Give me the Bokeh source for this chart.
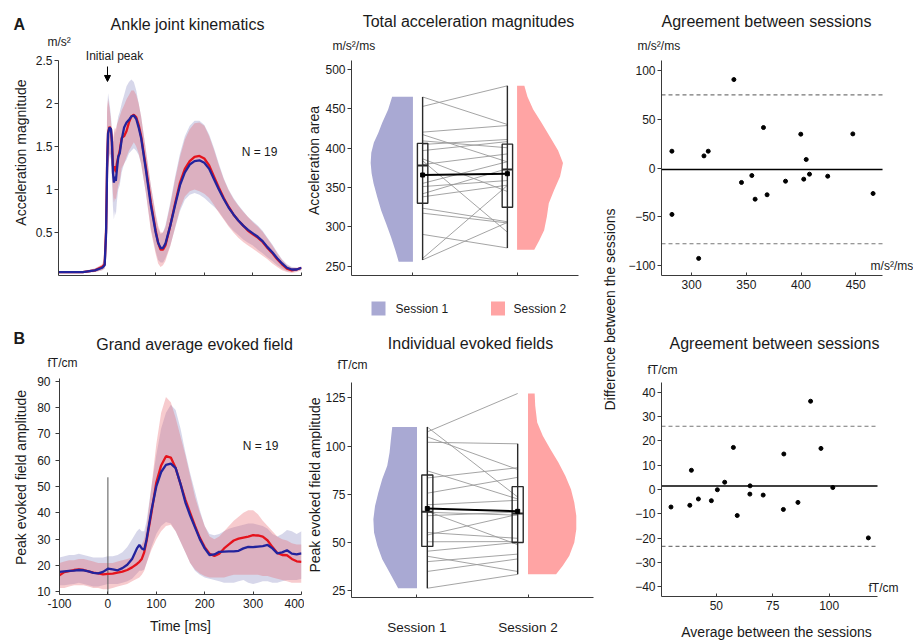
import numpy as np
from bokeh.plotting import figure
from bokeh.models import (Range1d, FixedTicker, Label, Arrow, NormalHead, NumeralTickFormatter)
from bokeh.layouts import row, column
from bokeh.embed import file_html
from bokeh.resources import INLINE

FONT = "Liberation Sans"
TXT = "#1a1a1a"
AX = "#3a3a3a"
C1_LINE = "#23239c"
C2_LINE = "#e5131c"
C1_BAND = "#8787c0"
C2_BAND = "#e8606a"
C1_VIOL = "#a9a9d3"
C2_VIOL = "#ffa4a4"
BOXC = "#2a2a2a"
PAIRC = "#9a9a9a"

# ---------------- Panel A1: ankle joint kinematics (m/s^2) ----------------
kin_t = [-100, -50, -25, -10, -5, -2, 0, 2, 5, 8, 10, 12, 14, 16, 18, 20, 23, 26, 30, 35,
         40, 45, 50, 55, 60, 65, 70, 80, 90, 100, 105, 110, 115, 120, 130, 140, 150, 160,
         170, 180, 190, 200, 210, 220, 230, 240, 250, 260, 270, 280, 290, 300, 310, 320,
         330, 340, 350, 360, 370, 380, 390, 400]
kin_s1_mean = [0.04, 0.04, 0.06, 0.09, 0.12, 0.5, 1.25, 1.65, 1.72, 1.70, 1.55, 1.2, 1.08, 1.15,
               1.10, 1.22, 1.38, 1.42, 1.58, 1.72, 1.78, 1.81, 1.85, 1.86, 1.82, 1.72, 1.6, 1.22,
               0.82, 0.5, 0.38, 0.32, 0.32, 0.37, 0.58, 0.82, 1.05, 1.2, 1.29, 1.33, 1.34, 1.31,
               1.24, 1.12, 1.0, 0.89, 0.79, 0.71, 0.64, 0.58, 0.53, 0.49, 0.45, 0.4, 0.33, 0.27,
               0.2, 0.14, 0.09, 0.07, 0.07, 0.09]
kin_s2_mean = [0.04, 0.04, 0.06, 0.1, 0.13, 0.55, 1.3, 1.66, 1.73, 1.7, 1.55, 1.28, 1.22, 1.27,
               1.2, 1.3, 1.38, 1.45, 1.6, 1.62, 1.68, 1.78, 1.85, 1.87, 1.84, 1.75, 1.62, 1.25,
               0.85, 0.52, 0.38, 0.3, 0.3, 0.35, 0.58, 0.84, 1.08, 1.24, 1.33, 1.38, 1.39, 1.36,
               1.28, 1.15, 1.02, 0.9, 0.8, 0.71, 0.64, 0.58, 0.52, 0.48, 0.44, 0.39, 0.32, 0.26,
               0.19, 0.13, 0.08, 0.06, 0.07, 0.09]
kin_s1_hi = [0.05, 0.05, 0.08, 0.12, 0.2, 0.8, 1.9, 2.12, 2.0, 1.85, 1.7, 1.55, 1.6, 1.7, 1.65,
             1.75, 1.85, 1.9, 2.0, 2.1, 2.2, 2.25, 2.28, 2.25, 2.15, 2.0, 1.85, 1.45, 1.05, 0.7,
             0.55, 0.48, 0.5, 0.58, 0.85, 1.15, 1.42, 1.62, 1.74, 1.8, 1.8, 1.75, 1.64, 1.48,
             1.3, 1.13, 1.0, 0.9, 0.82, 0.75, 0.68, 0.63, 0.58, 0.52, 0.44, 0.36, 0.27, 0.19,
             0.13, 0.1, 0.09, 0.1]
kin_s1_lo = [0.03, 0.03, 0.04, 0.06, 0.08, 0.2, 0.7, 1.2, 1.4, 1.35, 1.1, 0.8, 0.65, 0.75, 0.7,
             0.85, 1.0, 1.05, 1.2, 1.3, 1.35, 1.42, 1.45, 1.48, 1.45, 1.4, 1.3, 0.95, 0.55, 0.28,
             0.18, 0.15, 0.15, 0.2, 0.35, 0.55, 0.75, 0.88, 0.94, 0.96, 0.94, 0.9, 0.85, 0.8,
             0.74, 0.66, 0.58, 0.52, 0.47, 0.42, 0.38, 0.35, 0.3, 0.26, 0.21, 0.17, 0.12, 0.08,
             0.05, 0.04, 0.05, 0.07]
kin_s2_hi = [0.05, 0.05, 0.08, 0.13, 0.22, 0.9, 1.95, 2.05, 1.95, 1.8, 1.65, 1.6, 1.65, 1.72,
             1.7, 1.75, 1.8, 1.85, 1.92, 1.98, 2.05, 2.1, 2.15, 2.15, 2.1, 2.0, 1.85, 1.45, 1.05,
             0.72, 0.58, 0.5, 0.5, 0.56, 0.82, 1.12, 1.38, 1.58, 1.7, 1.77, 1.78, 1.74, 1.62,
             1.46, 1.28, 1.12, 0.99, 0.89, 0.81, 0.74, 0.68, 0.62, 0.57, 0.51, 0.43, 0.35, 0.26,
             0.18, 0.12, 0.09, 0.09, 0.1]
kin_s2_lo = [0.03, 0.03, 0.04, 0.06, 0.08, 0.22, 0.75, 1.25, 1.42, 1.4, 1.2, 0.95, 0.85, 0.9,
             0.88, 0.95, 1.05, 1.1, 1.25, 1.3, 1.38, 1.45, 1.5, 1.55, 1.5, 1.42, 1.3, 0.95, 0.52,
             0.25, 0.14, 0.1, 0.12, 0.17, 0.34, 0.56, 0.78, 0.92, 0.98, 1.0, 0.98, 0.95, 0.9,
             0.82, 0.73, 0.65, 0.57, 0.5, 0.44, 0.39, 0.35, 0.31, 0.27, 0.23, 0.19, 0.14, 0.1,
             0.06, 0.04, 0.03, 0.04, 0.06]

# ---------------- Panel B1: grand average evoked field (fT/cm) ----------------
mef_t = [-100, -90, -80, -70, -60, -50, -40, -30, -20, -10, 0, 10, 20, 30, 40, 50, 60, 65, 70,
         75, 80, 90, 100, 110, 120, 130, 140, 150, 160, 170, 180, 190, 200, 210, 220, 230, 240,
         250, 260, 270, 280, 290, 300, 310, 320, 330, 340, 350, 360, 370, 380, 390, 400]
mef_s1_mean = [17.6, 17.8, 18.0, 18.1, 18.3, 18.2, 17.8, 17.2, 17.0, 17.6, 18.8, 18.5, 18.2,
               19.0, 20.3, 22.5, 26.5, 27.8, 26.5, 26.0, 30.0, 41.0, 50.0, 55.5, 58.2, 58.7,
               57.0, 51.0, 44.0, 39.0, 34.5, 30.0, 26.5, 24.0, 24.2, 25.2, 25.3, 25.4, 25.4,
               25.6, 26.5, 27.1, 27.0, 27.2, 27.4, 27.8, 26.5, 24.6, 25.0, 25.8, 24.5, 24.2, 24.6]
mef_s2_mean = [16.3, 17.5, 17.9, 18.3, 18.5, 18.3, 17.8, 17.3, 17.0, 16.6, 16.8, 16.9, 17.3,
               17.7, 18.3, 19.3, 20.6, 21.4, 22.5, 25.0, 29.5, 40.0, 51.5, 58.0, 61.5, 61.0,
               57.0, 51.0, 45.0, 40.0, 35.0, 30.5, 27.0, 24.5, 23.6, 24.5, 26.5, 28.0, 29.5,
               30.2, 30.6, 31.0, 31.5, 31.4, 31.0, 29.5, 27.0, 24.8, 24.0, 23.9, 22.5, 21.6, 21.4]
mef_s1_hi = [23, 23.5, 24, 24, 24.5, 24, 23.5, 23, 23, 23, 23.5, 23.5, 24, 25, 27, 30, 33, 34,
             33, 33, 37, 50, 62, 72, 78, 81, 79, 72, 63, 55, 48, 41, 35, 32, 31.5, 32, 33, 34,
             34.5, 35, 35.5, 36, 36, 35.5, 35, 34, 32, 31, 32, 33.5, 33, 32, 33]
mef_s1_lo = [12.5, 12.5, 12.8, 13, 13.5, 13, 12.5, 12, 12, 12.5, 13, 13, 13, 13.5, 14, 15, 17,
             18, 18, 18.5, 21, 27, 32, 35, 36.5, 36, 33, 29, 25, 21, 18, 16.5, 15.5, 15, 14.5,
             14, 13.5, 13.5, 13.5, 14, 14.5, 13.5, 13, 13.5, 14, 14, 13.5, 13.5, 14, 14.5, 14.5,
             14.5, 15]
mef_s2_hi = [21, 21.5, 22, 22, 22.5, 22.5, 22, 21.5, 21, 21, 21, 21, 21.5, 22, 22.5, 23, 25,
             26.5, 28, 30, 35, 50, 66, 78, 84, 82, 76, 69, 62, 54, 46, 40, 35, 31, 30, 31, 33,
             35, 37, 38.5, 40, 41, 41, 39.5, 37, 35, 33, 31, 30, 29.5, 28.5, 28, 28]
mef_s2_lo = [11.5, 11.5, 12, 12.5, 12.5, 12.5, 12, 11.5, 11.5, 11, 11, 11.5, 12, 12.5, 13, 14,
             15, 15.5, 16.5, 18, 21, 26, 30, 33, 35, 35.5, 33, 29, 25, 21, 18.5, 17, 16, 15.5,
             15.5, 15.5, 15.5, 16, 16.5, 16.5, 16.5, 16.5, 16.5, 16.5, 16, 16, 15.5, 15, 14.5,
             14, 13.5, 13.5, 13.5]
stim_t = 0
stim_top = 53.5

# ---------------- Paired per-subject values (19 subjects) ----------------
acc_s1 = [290.6, 258.3, 260.2, 317.5, 323.8, 383.9, 338.2, 351.2, 342.1, 386.4, 355.3, 379.1,
          417.1, 396.8, 409.1, 404.6, 420.2, 464.8, 452.8]
acc_s2 = [273.4, 305.8, 352.7, 305.1, 306.6, 293.4, 353.0, 358.9, 374.0, 345.0, 382.7, 392.6,
          382.5, 408.2, 400.4, 410.9, 428.6, 429.9, 478.9]
evo_s1 = [26.3, 35.0, 42.9, 40.1, 45.5, 50.4, 55.2, 66.2, 53.9, 63.9, 65.7, 69.6, 87.2, 75.6,
          83.5, 109.9, 104.8, 102.0, 107.4]
evo_s2 = [33.5, 41.5, 35.0, 44.0, 50.1, 50.5, 52.2, 48.9, 64.6, 65.8, 64.2, 71.9, 72.6, 83.8,
          88.8, 73.6, 87.9, 101.2, 127.3]

# box statistics [q1, median, q3, whisker low, whisker high]
acc_box1 = [330, 378, 406, 258.3, 464.8]
acc_box2 = [325, 373, 405, 273.4, 478.9]
evo_box1 = [48, 66, 85, 26.3, 109.9]
evo_box2 = [50, 65, 79, 33.5, 101.2]

# half-violin outlines: levels and half widths (in category units)
acc_v1_y = [256, 270, 287, 304, 321, 338, 355, 368, 381, 394, 407, 419, 432, 449, 465]
acc_v1_w = [0.137, 0.168, 0.21, 0.257, 0.305, 0.343, 0.378, 0.397, 0.406, 0.40, 0.375, 0.333,
            0.295, 0.238, 0.20]
acc_v2_y = [271, 283, 296, 313, 330, 347, 364, 381, 397, 414, 432, 449, 465, 479]
acc_v2_w = [0.165, 0.213, 0.26, 0.286, 0.305, 0.356, 0.413, 0.441, 0.394, 0.317, 0.235, 0.155,
            0.10, 0.07]
evo_v1_y = [26.3, 34.5, 41.4, 48.3, 55.2, 62.1, 69, 76, 82.9, 89.8, 96.7, 103.6, 109.9]
evo_v1_w = [0.17, 0.247, 0.313, 0.357, 0.387, 0.393, 0.378, 0.348, 0.313, 0.268, 0.247, 0.235,
            0.223]
evo_v2_y = [33.5, 38, 43.1, 50, 56.9, 63.9, 70.8, 77.7, 84.6, 91.5, 98.4, 105.3, 112.2, 120.9,
            127.3]
evo_v2_w = [0.253, 0.313, 0.372, 0.417, 0.435, 0.435, 0.417, 0.387, 0.336, 0.274, 0.202, 0.134,
            0.083, 0.065, 0.06]

# limits of agreement (upper, lower)
acc_loa = [74.8, -77.5]
evo_loa = [26.0, -23.4]

sessions = ["Session 1", "Session 2"]
n_label = "N = 19"

BOX_OFF = 0.093
BOX_W = 0.1
MEAN_LW = 2.3


def panel(width, height, xr, yr, left, right, top, bottom):
    p = figure(width=width, height=height, x_range=Range1d(*xr), y_range=Range1d(*yr),
               min_border_left=left, min_border_right=right, min_border_top=top,
               min_border_bottom=bottom, toolbar_location=None, output_backend="svg",
               title_location=None)
    p.outline_line_color = None
    p.grid.visible = False
    p.background_fill_color = "white"
    p.border_fill_color = "white"
    for ax in p.axis:
        ax.axis_line_color = AX
        ax.major_tick_line_color = AX
        ax.minor_tick_line_color = None
        ax.major_label_text_font = FONT
        ax.major_label_text_font_size = "12px"
        ax.major_label_text_color = TXT
        ax.axis_label_text_font = FONT
        ax.axis_label_text_font_size = "14px"
        ax.axis_label_text_font_style = "normal"
        ax.axis_label_text_color = TXT
    p.yaxis.major_tick_out = 4
    p.yaxis.major_tick_in = 0
    p.yaxis.major_label_standoff = 2
    p.xaxis.major_tick_out = 0
    p.xaxis.major_tick_in = 3
    p.xaxis.major_label_standoff = 4
    return p


def text_fig(w, h):
    f = figure(width=w, height=h, x_range=Range1d(0, w), y_range=Range1d(0, h), min_border=0,
               toolbar_location=None, output_backend="svg", x_axis_type=None,
               y_axis_type=None, title_location=None)
    f.outline_line_color = None
    f.grid.visible = False
    f.background_fill_color = "white"
    f.border_fill_color = "white"
    return f


def put(f, origin, gx, gy, text, size="12px", align="left", bold=False, angle=0.0):
    # (gx, gy): page position of the text's centre line, measured from the top-left
    x0, y0 = origin
    f.add_layout(Label(x=gx - x0, y=f.height - (gy - y0), text=text, text_font=FONT,
                       text_font_size=size, text_align=align, text_baseline="middle",
                       text_color=TXT, text_font_style="bold" if bold else "normal",
                       angle=angle))


def note(p, x, y, text, size="12px", align="left"):
    p.add_layout(Label(x=x, y=y, text=text, text_font=FONT, text_font_size=size,
                       text_align=align, text_baseline="middle", text_color=TXT))


def half_violin(p, edge, ys, ws, side, color):
    ys = np.asarray(ys, dtype=float)
    ws = np.asarray(ws, dtype=float)
    px = np.concatenate([[edge], edge + side * ws, [edge]])
    py = np.concatenate([[ys[0]], ys, [ys[-1]]])
    return p.patch(px, py, fill_color=color, line_color=None)


def box(p, xc, stats):
    q1, med, q3, lo, hi = stats
    p.segment(x0=[xc], y0=[lo], x1=[xc], y1=[hi], line_color=BOXC, line_width=1.4)
    p.quad(left=[xc - BOX_W / 2], right=[xc + BOX_W / 2], bottom=[q1], top=[q3],
           fill_color=None, line_color=BOXC, line_width=1.4)
    p.segment(x0=[xc - BOX_W / 2], y0=[med], x1=[xc + BOX_W / 2], y1=[med],
              line_color=BOXC, line_width=2)


def raincloud(p, s1, s2, v1y, v1w, v2y, v2w, b1, b2):
    half_violin(p, 1, v1y, v1w, -1, C1_VIOL)
    half_violin(p, 2, v2y, v2w, 1, C2_VIOL)
    x1 = 1 + BOX_OFF
    x2 = 2 - BOX_OFF
    n = len(s1)
    p.segment(x0=[x1] * n, y0=s1, x1=[x2] * n, y1=s2, line_color=PAIRC, line_width=0.9)
    box(p, x1, b1)
    box(p, x2, b2)
    means = [float(np.mean(s1)), float(np.mean(s2))]
    p.line([x1, x2], means, line_color="black", line_width=2)
    p.scatter([x1, x2], means, marker="square", size=4, color="black")
    p.xaxis.ticker = FixedTicker(ticks=[1, 2])


def bland_altman(p, s1, s2, loa, xb):
    a = np.asarray(s1)
    b = np.asarray(s2)
    avg = (a + b) / 2
    diff = a - b
    bias = float(diff.mean())
    p.segment(x0=[xb[0]], y0=[bias], x1=[xb[1]], y1=[bias], line_color="black", line_width=1.5)
    p.segment(x0=[xb[0]] * len(loa), y0=loa, x1=[xb[1]] * len(loa), y1=loa,
              line_color="#777777", line_width=1.2, line_dash="4 3")
    p.scatter(avg, diff, size=4, color="black")
    p.xaxis.bounds = xb


def stack(*items):
    # each child wrapped in its own row so that Bokeh does not align their frames
    return column(*[row(it) for it in items])


# ================= LEFT COLUMN =================
hdr_L = text_fig(304, 48)
o = (0, 0)
put(hdr_L, o, 13, 24, "A", size="16px", bold=True)
put(hdr_L, o, 187, 24, "Ankle joint kinematics", size="16px", align="center")
put(hdr_L, o, 47, 41.3, "m/s²", size="12px")

strip_L = text_fig(30, 592)
o = (0, 48)
put(strip_L, o, 20, 152, "Acceleration magnitude", size="14px", align="center",
    angle=np.pi / 2)
put(strip_L, o, 13, 338, "B", size="16px", bold=True)
put(strip_L, o, 20, 477, "Peak evoked field amplitude", size="14px", align="center",
    angle=np.pi / 2)

a1 = panel(274, 252, (-100, 400), (0, 2.6395), 28, 3, 0, 25)
a1.varea(kin_t, kin_s1_lo, kin_s1_hi, fill_color=C1_BAND, fill_alpha=0.33)
a1.varea(kin_t, kin_s2_lo, kin_s2_hi, fill_color=C2_BAND, fill_alpha=0.33)
a1.line(kin_t, kin_s2_mean, line_color=C2_LINE, line_width=MEAN_LW)
a1.line(kin_t, kin_s1_mean, line_color=C1_LINE, line_width=MEAN_LW)
a1.yaxis.ticker = FixedTicker(ticks=[0.5, 1, 1.5, 2, 2.5])
a1.yaxis.formatter = NumeralTickFormatter(format="0.[0]")
a1.yaxis.bounds = (0, 2.5)
a1.xaxis.ticker = FixedTicker(ticks=[0, 100, 200, 300, 400])
a1.xaxis.major_label_text_color = None
note(a1, 15.2, 2.558, "Initial peak", align="center")
a1.add_layout(Arrow(end=NormalHead(size=6, fill_color="black", line_color="black"),
                    x_start=0.8, y_start=2.43, x_end=0.8, y_end=2.256,
                    line_color="black", line_width=1))
note(a1, 313.6, 1.434, n_label, align="center")

mid_L = text_fig(274, 70)
o = (30, 300)
put(mid_L, o, 194, 344, "Grand average evoked field", size="16px", align="center")
put(mid_L, o, 47, 362.5, "fT/cm")

b1 = panel(274, 270, (-100, 400), (9, 94.04), 29, 3, 0, 46)
b1.varea(mef_t, mef_s1_lo, mef_s1_hi, fill_color=C1_BAND, fill_alpha=0.33)
b1.varea(mef_t, mef_s2_lo, mef_s2_hi, fill_color=C2_BAND, fill_alpha=0.33)
b1.segment(x0=[stim_t], y0=[9], x1=[stim_t], y1=[stim_top], line_color="#555555", line_width=1)
b1.line(mef_t, mef_s2_mean, line_color=C2_LINE, line_width=MEAN_LW)
b1.line(mef_t, mef_s1_mean, line_color=C1_LINE, line_width=MEAN_LW)
b1.yaxis.ticker = FixedTicker(ticks=[10, 20, 30, 40, 50, 60, 70, 80, 90])
b1.yaxis.bounds = (9, 91)
b1.yaxis.major_label_standoff = 5
b1.xaxis.ticker = FixedTicker(ticks=[-100, 0, 100, 200, 300, 400])
b1.xaxis.formatter = NumeralTickFormatter(format="0")
b1.xaxis.axis_label = "Time [ms]"
b1.xaxis.axis_label_standoff = 7
note(b1, 315.3, 65.3, n_label, align="center")

left = column(hdr_L, row(strip_L, stack(a1, mid_L, b1)))

# ================= MIDDLE COLUMN =================
hdr_M = text_fig(296, 60)
o = (304, 0)
put(hdr_M, o, 468, 21, "Total acceleration magnitudes", size="16px", align="center")
put(hdr_M, o, 332, 45.7, "m/s²/ms")

strip_M = text_fig(18, 580)
o = (304, 60)
put(strip_M, o, 313, 160, "Acceleration area", size="14px", align="center", angle=np.pi / 2)
put(strip_M, o, 314, 484.5, "Peak evoked field amplitude", size="14px", align="center",
    angle=np.pi / 2)

a2 = panel(278, 240, (0.41, 2.59), (238.5, 511), 27, 22, 0, 25)
raincloud(a2, acc_s1, acc_s2, acc_v1_y, acc_v1_w, acc_v2_y, acc_v2_w, acc_box1, acc_box2)
a2.yaxis.ticker = FixedTicker(ticks=[250, 300, 350, 400, 450, 500])
a2.xaxis.major_label_text_color = None

mid_M = text_fig(278, 82)
o = (322, 300)
mid_M.rect(x=[378 - 322, 497.5 - 322], y=[82 - 8, 82 - 8], width=14, height=14,
           fill_color=[C1_VIOL, C2_VIOL], line_color=None)
put(mid_M, o, 395, 308.5, sessions[0])
put(mid_M, o, 513, 308.5, sessions[1])
put(mid_M, o, 470, 342.5, "Individual evoked fields", size="16px", align="center")
put(mid_M, o, 337, 364, "fT/cm")

b2 = panel(278, 258, (0.41, 2.59), (21.5, 133), 27, 7, 0, 43)
raincloud(b2, evo_s1, evo_s2, evo_v1_y, evo_v1_w, evo_v2_y, evo_v2_w, evo_box1, evo_box2)
b2.yaxis.ticker = FixedTicker(ticks=[25, 50, 75, 100, 125])
b2.xaxis.major_label_overrides = {1: sessions[0], 2: sessions[1]}
b2.xaxis.major_label_text_font_size = "13.5px"
b2.xaxis.major_label_standoff = 22

middle = column(hdr_M, row(strip_M, stack(a2, mid_M, b2)))

# ================= RIGHT COLUMN =================
lab = text_fig(20, 640)
put(lab, (600, 0), 609, 309, "Difference between the sessions", size="14px",
    align="center", angle=np.pi / 2)

hdr_R = text_fig(293, 60)
o = (620, 0)
put(hdr_R, o, 766, 21, "Agreement between sessions", size="16px", align="center")
put(hdr_R, o, 637, 45.7, "m/s²/ms")

acc_xb = (272.5, 474.5)
a3 = panel(293, 240, (272.5, 502.8), (-110, 110), 41, 0, 0, 25)
bland_altman(a3, acc_s1, acc_s2, acc_loa, acc_xb)
a3.yaxis.ticker = FixedTicker(ticks=[-100, -50, 0, 50, 100])
a3.yaxis.major_label_overrides = {-100: "−100", -50: "−50"}
a3.xaxis.ticker = FixedTicker(ticks=[300, 350, 400, 450])
note(a3, 463.6, -100.5, "m/s²/ms")

mid_R = text_fig(293, 82)
o = (620, 300)
put(mid_R, o, 774, 342.5, "Agreement between sessions", size="16px", align="center")
put(mid_R, o, 647, 369, "fT/cm")

evo_xb = (25.7, 121.4)
b3 = panel(293, 238, (25.7, 137.35), (-44, 44), 41, 0, 0, 24)
bland_altman(b3, evo_s1, evo_s2, evo_loa, evo_xb)
b3.yaxis.ticker = FixedTicker(ticks=[-40, -30, -20, -10, 0, 10, 20, 30, 40])
b3.yaxis.major_label_overrides = {-40: "−40", -30: "−30", -20: "−20", -10: "−10"}
b3.xaxis.ticker = FixedTicker(ticks=[50, 75, 100])
note(b3, 117.4, -40.5, "fT/cm")

bot_R = text_fig(293, 20)
put(bot_R, (620, 620), 776, 631.5, "Average between the sessions", size="14px", align="center")

right = row(lab, stack(hdr_R, a3, mid_R, b3, bot_R))

layout = row(left, middle, right)
open("out.html", "w").write(file_html(layout, INLINE))
